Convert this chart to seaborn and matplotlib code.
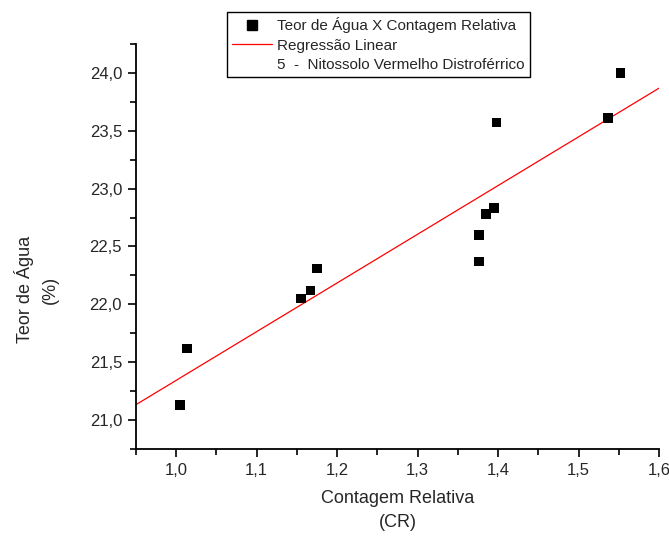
import numpy as np
import pandas as pd
import matplotlib
matplotlib.use("Agg")
import matplotlib.pyplot as plt
import seaborn as sns
from matplotlib.ticker import MultipleLocator, FuncFormatter
from matplotlib.lines import Line2D

# values
contagem = [1.005, 1.013, 1.155, 1.167, 1.175, 1.376, 1.376, 1.385, 1.395, 1.398, 1.537, 1.552]
teor = [21.13, 21.62, 22.05, 22.12, 22.31, 22.37, 22.60, 22.78, 22.83, 23.57, 23.61, 24.00]

df = pd.DataFrame({"CR": contagem, "Teor": teor})

sns.set_style("ticks")
plt.rcParams["font.family"] = ["Liberation Sans", "DejaVu Sans"]

fig = plt.figure(figsize=(6.69, 5.36), dpi=100)
ax = fig.add_axes([0.2033, 0.1623, 0.7817, 0.7557])
ax.set_xlim(0.95, 1.6)
ax.set_ylim(20.75, 24.25)

sns.regplot(data=df, x="CR", y="Teor", scatter=False, ci=None, truncate=False,
            color="red", line_kws={"lw": 0.9}, ax=ax)
sns.scatterplot(data=df, x="CR", y="Teor", marker="s", s=48, color="black",
                edgecolor="none", ax=ax, legend=False, zorder=3)

ax.set_xlim(0.95, 1.6)
ax.set_ylim(20.75, 24.25)

comma = FuncFormatter(lambda v, p: f"{v:.1f}".replace(".", ","))
ax.xaxis.set_major_locator(MultipleLocator(0.1))
ax.xaxis.set_minor_locator(MultipleLocator(0.05))
ax.yaxis.set_major_locator(MultipleLocator(0.5))
ax.yaxis.set_minor_locator(MultipleLocator(0.25))
ax.xaxis.set_major_formatter(comma)
ax.yaxis.set_major_formatter(comma)
ax.tick_params(which="major", direction="out", length=6, width=1.2, labelsize=12, color="black", pad=4)
ax.tick_params(which="minor", direction="out", length=4, width=1.2, color="black")

sns.despine(ax=ax)
for s in ["left", "bottom"]:
    ax.spines[s].set_linewidth(1.3)
    ax.spines[s].set_color("black")

ax.set_xlabel("Contagem Relativa\n(CR)", fontsize=13, labelpad=9, linespacing=1.5)
ax.set_ylabel("Teor de Água\n(%)", fontsize=13, linespacing=1.6)
# the original label sits below the middle of the axis
ax.yaxis.set_label_coords(-0.148, 0.393)

handles = [
    Line2D([], [], marker="s", color="black", ls="none", markersize=7),
    Line2D([], [], color="red", lw=0.9),
    Line2D([], [], color="none"),
]
labels = ["Teor de Água X Contagem Relativa", "Regressão Linear",
          "5  -  Nitossolo Vermelho Distroférrico"]
leg = ax.legend(handles, labels, loc="upper left", bbox_to_anchor=(0.174, 1.079),
                fontsize=11, frameon=True, fancybox=False, framealpha=1,
                handlelength=2.6, handletextpad=0.35, borderpad=0.35,
                labelspacing=0.35, borderaxespad=0)
leg.get_frame().set_edgecolor("black")
leg.get_frame().set_linewidth(1.0)

fig.savefig("out.png", dpi=100)
